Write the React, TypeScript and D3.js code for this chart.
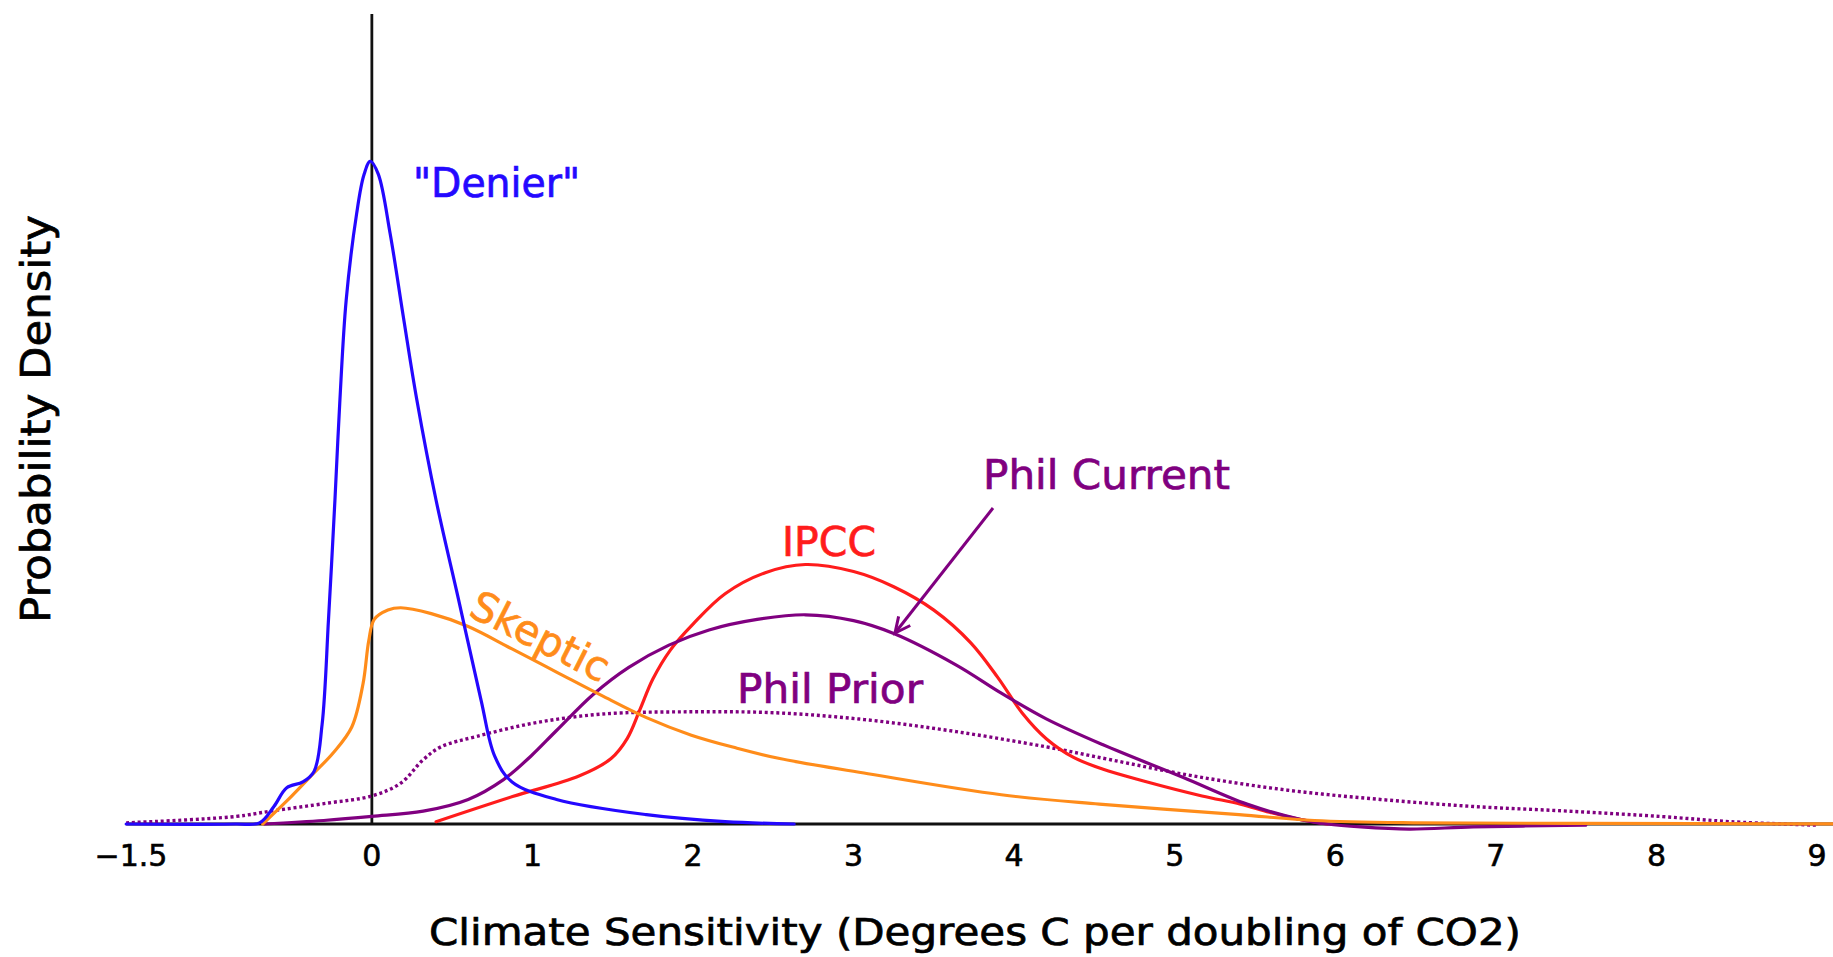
import React from "react";
import * as d3 from "d3";

// x: climate sensitivity (°C per doubling of CO2); y: probability density (arbitrary units)
const denier: [number, number][] = [
  [-1.53, 0], [-0.85, 0], [-0.7, 0.001], [-0.61, 0.015], [-0.53, 0.031], [-0.43, 0.036],
  [-0.36, 0.045], [-0.31, 0.085], [-0.27, 0.175], [-0.23, 0.277], [-0.2, 0.36],
  [-0.16, 0.448], [-0.095, 0.522], [-0.05, 0.555], [-0.01, 0.567], [0.04, 0.556],
  [0.114, 0.505], [0.196, 0.434], [0.28, 0.363], [0.4, 0.277], [0.54, 0.192],
  [0.68, 0.106], [0.765, 0.058], [0.873, 0.036], [1.15, 0.021], [1.71, 0.008],
  [2.2, 0.002], [2.63, 0],
];

const skeptic: [number, number][] = [
  [-0.68, 0], [-0.52, 0.021], [-0.38, 0.041], [-0.24, 0.061], [-0.125, 0.083],
  [-0.055, 0.12], [-0.019, 0.157], [0.015, 0.175], [0.1, 0.183], [0.18, 0.185],
  [0.37, 0.18], [0.6, 0.169], [0.87, 0.15], [1.15, 0.13], [1.43, 0.11],
  [1.71, 0.091], [1.99, 0.076], [2.27, 0.065], [2.54, 0.056], [3.09, 0.043],
  [3.92, 0.025], [4.53, 0.017], [5.4, 0.008], [5.87, 0.003], [6.5, 0.001],
  [7.5, 0.0005], [9.2, 0],
];

const ipcc: [number, number][] = [
  [0.4, 0.002], [0.876, 0.0235], [1.29, 0.041], [1.49, 0.056], [1.59, 0.073],
  [1.67, 0.098], [1.75, 0.124], [1.86, 0.149], [2.0, 0.171], [2.2, 0.197],
  [2.45, 0.215], [2.7, 0.222], [3.0, 0.216], [3.25, 0.203], [3.5, 0.183],
  [3.73, 0.155], [3.9, 0.125], [4.05, 0.095], [4.2, 0.073], [4.37, 0.057],
  [4.55, 0.047], [4.8, 0.037], [5.17, 0.024], [5.41, 0.017], [5.59, 0.01],
  [5.78, 0.004], [5.95, 0],
];

const philCurrent: [number, number][] = [
  [-0.67, 0], [-0.3, 0.003], [0, 0.0065], [0.32, 0.011], [0.6, 0.021], [0.82, 0.038],
  [0.99, 0.058], [1.15, 0.08], [1.38, 0.111], [1.6, 0.134], [1.85, 0.153],
  [2.1, 0.166], [2.4, 0.175], [2.7, 0.179], [3.0, 0.174], [3.25, 0.163],
  [3.64, 0.136], [3.92, 0.112], [4.2, 0.09], [4.55, 0.068], [5.05, 0.04],
  [5.45, 0.017], [5.78, 0.004], [5.95, 0], [6.16, -0.0025], [6.46, -0.0043],
  [6.86, -0.0025], [7.56, -0.001],
];

const philPrior: [number, number][] = [
  [-1.53, 0.001], [-0.85, 0.0064], [-0.63, 0.011], [-0.27, 0.018], [0, 0.024],
  [0.18, 0.035], [0.32, 0.055], [0.43, 0.066], [0.655, 0.075], [1.015, 0.0865],
  [1.43, 0.094], [1.99, 0.096], [2.54, 0.095], [3.09, 0.089], [3.64, 0.079],
  [4.2, 0.066], [4.6, 0.055], [5.12, 0.041], [5.7, 0.029], [6.28, 0.021],
  [6.86, 0.015], [7.45, 0.011], [8.03, 0.0064], [8.46, 0.002], [9.0, -0.001],
];

const xTicks: number[] = [-1.5, 0, 1, 2, 3, 4, 5, 6, 7, 8, 9];
const xTickLabels: string[] = ["\u22121.5", "0", "1", "2", "3", "4", "5", "6", "7", "8", "9"];

const W = 1833;
const H = 957;
const FONT = "'DejaVu Sans', 'Lucida Grande', sans-serif";

const BLUE = "#2408ff";
const RED = "#ff1c1c";
const ORANGE = "#ff8c1a";
const PURPLE = "#800080";
const LW = 3.2;

export default function App() {
  const x = d3.scaleLinear().domain([-1.5, 9]).range([131, 1817]);
  const y = d3.scaleLinear().domain([0, 0.693]).range([824, 14]);
  const line = d3
    .line<[number, number]>()
    .x((d) => x(d[0]))
    .y((d) => y(d[1]))
    .curve(d3.curveCatmullRom.alpha(0.5));

  // arrow geometry
  const ax1 = 993, ay1 = 508, ax2 = 895, ay2 = 633;
  const ang = Math.atan2(ay2 - ay1, ax2 - ax1);
  const hl = 17, ha = 0.45;
  const h1 = [ax2 - hl * Math.cos(ang - ha), ay2 - hl * Math.sin(ang - ha)];
  const h2 = [ax2 - hl * Math.cos(ang + ha), ay2 - hl * Math.sin(ang + ha)];

  return (
    <svg
      width={W}
      height={H}
      style={{ position: "absolute", left: 0, top: 0, background: "#fff" }}
      fontFamily={FONT}
    >
      {/* axes */}
      <line x1={x(-1.53)} x2={W} y1={y(0)} y2={y(0)} stroke="#111" strokeWidth={3.2} />
      <line x1={x(0)} x2={x(0)} y1={y(0.693)} y2={y(0)} stroke="#111" strokeWidth={2.8} />

      {/* curves */}
      <path d={line(philPrior) || ""} fill="none" stroke={PURPLE} strokeWidth={3.4} strokeDasharray="3,2.8" />
      <path d={line(ipcc) || ""} fill="none" stroke={RED} strokeWidth={LW} strokeLinecap="round" />
      <path d={line(philCurrent) || ""} fill="none" stroke={PURPLE} strokeWidth={LW} strokeLinecap="round" />
      <path d={line(skeptic) || ""} fill="none" stroke={ORANGE} strokeWidth={LW} strokeLinecap="round" />
      <path d={line(denier) || ""} fill="none" stroke={BLUE} strokeWidth={LW} strokeLinecap="round" />

      {/* tick labels */}
      {xTicks.map((t, i) => (
        <text key={t} x={x(t)} y={866} fontSize={30} textAnchor="middle" fill="#000" stroke="#000" strokeWidth={0.6}>
          {xTickLabels[i]}
        </text>
      ))}

      {/* axis titles */}
      <text x={975} y={945} fontSize={38} textAnchor="middle" textLength={1092} lengthAdjust="spacingAndGlyphs" fill="#000" stroke="#000" strokeWidth={0.7}>
        Climate Sensitivity (Degrees C per doubling of CO2)
      </text>
      <text
        transform="translate(50,419) rotate(-90)"
        fontSize={41}
        textAnchor="middle"
        textLength={408}
        lengthAdjust="spacingAndGlyphs"
        fill="#000"
        stroke="#000"
        strokeWidth={0.7}
      >
        Probability Density
      </text>

      {/* series labels */}
      <text x={413} y={197} fontSize={41} textLength={167} lengthAdjust="spacingAndGlyphs" fill={BLUE} stroke={BLUE} strokeWidth={0.7}>
        "Denier"
      </text>
      <text x={782} y={556} fontSize={41} textLength={94} lengthAdjust="spacingAndGlyphs" fill={RED} stroke={RED} strokeWidth={0.7}>
        IPCC
      </text>
      <text x={983} y={489} fontSize={41} textLength={247} lengthAdjust="spacingAndGlyphs" fill={PURPLE} stroke={PURPLE} strokeWidth={0.7}>
        Phil Current
      </text>
      <text x={737} y={703} fontSize={41} textLength={186} lengthAdjust="spacingAndGlyphs" fill={PURPLE} stroke={PURPLE} strokeWidth={0.7}>
        Phil Prior
      </text>
      <text
        transform="translate(467,615) rotate(27)"
        fontSize={41}
        textLength={150}
        lengthAdjust="spacingAndGlyphs"
        fill={ORANGE}
        stroke={ORANGE}
        strokeWidth={0.7}
      >
        Skeptic
      </text>

      {/* arrow */}
      <line x1={ax1} y1={ay1} x2={ax2} y2={ay2} stroke={PURPLE} strokeWidth={3} />
      <polyline
        points={`${h1[0]},${h1[1]} ${ax2},${ay2} ${h2[0]},${h2[1]}`}
        fill="none"
        stroke={PURPLE}
        strokeWidth={3}
      />
    </svg>
  );
}
